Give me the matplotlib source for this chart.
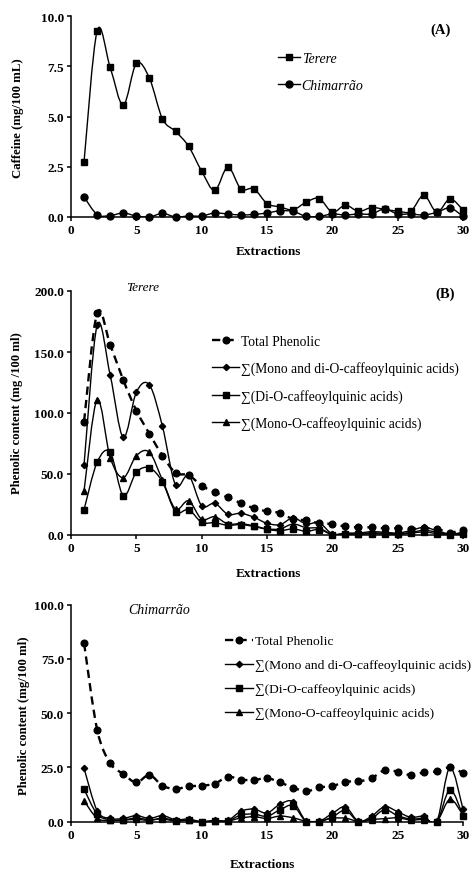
import numpy as np
import matplotlib
matplotlib.use('Agg')
import matplotlib.pyplot as plt
from matplotlib.path import Path
from matplotlib.patches import PathPatch
from matplotlib.lines import Line2D

plt.rcParams['font.family'] = ['Liberation Serif', 'DejaVu Serif']

extractions = list(range(1, 31))

# (A) caffeine, mg/100 mL
caffeine_terere = [2.76, 9.26, 7.44, 5.57, 7.64, 6.91, 4.88, 4.26, 3.52, 2.28,
                   1.32, 2.48, 1.40, 1.40, 0.67, 0.50, 0.36, 0.74, 0.92, 0.24,
                   0.59, 0.28, 0.47, 0.38, 0.29, 0.28, 1.08, 0.24, 0.90, 0.35]
caffeine_chimarrao = [1.00, 0.12, 0.07, 0.20, 0.05, 0.00, 0.18, 0.00, 0.05, 0.05,
                      0.20, 0.15, 0.10, 0.13, 0.20, 0.31, 0.28, 0.03, 0.03, 0.15,
                      0.10, 0.15, 0.15, 0.40, 0.15, 0.15, 0.10, 0.23, 0.45, 0.03]

# (B) terere, phenolic content
ter_total = [93, 182, 156, 127, 102, 83, 65, 51, 49, 40.5,
             35, 31, 26, 22, 19.4, 18, 13, 12, 9.6, 9,
             7, 6.3, 6.3, 5.5, 5.5, 5, 5.5, 5, 2, 4.4]
ter_mono_di = [57.7, 172, 131, 80, 117, 123, 89, 41, 49, 24,
               26, 17, 17.8, 14.5, 9.6, 8.5, 14, 9, 10, 0.8,
               1.6, 1.6, 2.7, 2.2, 1.6, 3.6, 6.3, 3.6, 0.8, 2.2]
ter_di = [20.8, 59.6, 67.8, 32.2, 51.4, 55, 43.5, 19, 20.8, 10.4,
          10, 8, 8.5, 7, 4.6, 3.5, 5, 3, 4.5, 0.3,
          0.5, 0.5, 1, 0.8, 0.5, 1.5, 2.5, 1.2, 0.3, 0.8]
ter_mono = [36.3, 111, 63.5, 47, 65, 67.8, 45, 21.3, 28, 13,
            15, 9, 9.3, 7.5, 5, 5, 9, 6, 5.5, 0.5,
            1.1, 1.1, 1.7, 1.4, 1.1, 2.1, 3.8, 2.4, 0.5, 1.4]

# (C) chimarrao, phenolic content
chi_total = [82.3, 42.4, 27, 22, 18.1, 21.5, 16.6, 15.1, 16.3, 16.6,
             17.5, 20.7, 19.4, 19.2, 20.1, 18.1, 15.7, 14, 15.8, 16.4,
             18.4, 18.6, 20, 23.8, 23, 21.5, 22.7, 23.2, 25, 22.4]
chi_mono_di = [24.6, 5.1, 1.5, 1.5, 2.8, 1.5, 2.8, 0.9, 1.2, 0,
               0.6, 0.6, 4.8, 5.8, 4, 8.1, 9.2, 0.2, 0.2, 3.8,
               6.8, 0.2, 2.5, 6.9, 4.6, 2, 2.5, 0.2, 25, 5.8]
chi_di = [15, 3.5, 0.9, 0.8, 1.7, 0.9, 1.2, 0.3, 0.6, 0,
          0.3, 0.3, 3.1, 3.5, 2.5, 5.5, 7.4, 0, 0, 2.2,
          5.2, 0, 1.5, 5.5, 2.8, 1.2, 1.5, 0, 14.7, 2.8]
chi_mono = [9.6, 1.6, 0.6, 0.7, 1.1, 0.6, 1.6, 0.6, 0.6, 0,
            0.3, 0.3, 1.7, 2.3, 1.5, 2.6, 1.8, 0.2, 0.2, 1.6,
            1.6, 0.2, 1.0, 1.4, 1.8, 0.8, 1.0, 0.2, 10.3, 3.0]

W, H = 474, 870


def fx(px):
    return px / W


def fy(py):
    return 1 - py / H


def smooth_path(x, y):
    """Excel-like smoothed line through the points (Catmull-Rom as Bezier)."""
    pts = np.column_stack([np.asarray(x, float), np.asarray(y, float)])
    ext = np.vstack([pts[0], pts, pts[-1]])
    verts = [pts[0]]
    codes = [Path.MOVETO]
    for i in range(len(pts) - 1):
        p0, p1, p2, p3 = ext[i], ext[i + 1], ext[i + 2], ext[i + 3]
        verts += [p1 + (p2 - p0) / 6.0, p2 - (p3 - p1) / 6.0, p2]
        codes += [Path.CURVE4] * 3
    return Path(verts, codes)


def draw_series(ax, x, y, marker, ms, lw=1.0, ls='-'):
    ax.add_patch(PathPatch(smooth_path(x, y), fill=False, ec='black',
                           lw=lw, ls=ls, capstyle='butt'))
    ax.plot(x, y, ls='none', marker=marker, ms=ms, color='black',
            clip_on=False, zorder=3)


def style_axes(ax, ymax, ystep):
    ax.set_xlim(0, 30)
    ax.set_ylim(0, ymax)
    ax.set_xticks(range(0, 31, 5))
    yt = np.arange(0, ymax + ystep / 2, ystep)
    ax.set_yticks(yt)
    ax.set_yticklabels(['%.1f' % v for v in yt])
    for s in ('top', 'right'):
        ax.spines[s].set_visible(False)
    for s in ('left', 'bottom'):
        ax.spines[s].set_linewidth(1.1)
    ax.tick_params(direction='out', length=3, width=1.1, labelsize=9.5, pad=2)
    for lab in ax.get_xticklabels() + ax.get_yticklabels():
        lab.set_fontweight('bold')


fig = plt.figure(figsize=(W / 100, H / 100), dpi=100)

# ---- (A)
axA = fig.add_axes([fx(71), fy(218), fx(463) - fx(71), fy(17) - fy(218)])
draw_series(axA, extractions, caffeine_terere, 's', 4.5)
draw_series(axA, extractions, caffeine_chimarrao, 'o', 5.0)
style_axes(axA, 10, 2.5)
hA = [Line2D([], [], color='k', lw=1.0, marker='s', ms=4.5),
      Line2D([], [], color='k', lw=1.0, marker='o', ms=5.0)]
axA.legend(hA, ['Terere', 'Chimarrão'], loc='upper left', frameon=False,
           bbox_to_anchor=(fx(278), fy(53)), bbox_transform=fig.transFigure,
           borderpad=0, borderaxespad=0, handlelength=1.6, handletextpad=0.1,
           labelspacing=1.0, prop={'size': 10, 'style': 'italic'})
fig.text(fx(441), fy(30), '(A)', ha='center', va='center', fontsize=10.5,
         fontweight='bold')
fig.text(fx(268), fy(252), 'Extractions', ha='center', va='center',
         fontsize=9.5, fontweight='bold')
fig.text(fx(18), fy(118), 'Caffeine (mg/100 mL)', ha='center', va='center',
         rotation=90, fontsize=9.2, fontweight='bold')

phen_labels = ['Total Phenolic', '∑(Mono and di-O-caffeoylquinic acids)',
               '∑(Di-O-caffeoylquinic acids)', '∑(Mono-O-caffeoylquinic acids)']
dash = (0, (3.5, 2.2))


def phen_handles():
    return [Line2D([], [], color='k', lw=1.7, ls=dash, marker='o', ms=4.8),
            Line2D([], [], color='k', lw=1.0, marker='D', ms=3.2),
            Line2D([], [], color='k', lw=1.0, marker='s', ms=4.0),
            Line2D([], [], color='k', lw=1.0, marker='^', ms=4.4)]


def draw_phen(ax, total, mono_di, di, mono):
    draw_series(ax, extractions, total, 'o', 4.8, lw=1.7, ls=dash)
    draw_series(ax, extractions, mono_di, 'D', 3.2)
    draw_series(ax, extractions, di, 's', 4.0)
    draw_series(ax, extractions, mono, '^', 4.4)


# ---- (B)
axB = fig.add_axes([fx(71), fy(536), fx(463) - fx(71), fy(292) - fy(536)])
draw_phen(axB, ter_total, ter_mono_di, ter_di, ter_mono)
style_axes(axB, 200, 50)
axB.legend(phen_handles(), phen_labels, loc='upper left', frameon=False,
           bbox_to_anchor=(fx(212), fy(336)), bbox_transform=fig.transFigure,
           borderpad=0, borderaxespad=0, handlelength=2.0, handletextpad=0.1,
           labelspacing=0.98, prop={'size': 9.8})
fig.text(fx(445), fy(294), '(B)', ha='center', va='center', fontsize=10.5,
         fontweight='bold')
fig.text(fx(143), fy(288), 'Terere', ha='center', va='center', fontsize=9.5,
         style='italic')
fig.text(fx(268), fy(574), 'Extractions', ha='center', va='center',
         fontsize=9.5, fontweight='bold')
fig.text(fx(17), fy(413), 'Phenolic content (mg /100 ml)', ha='center',
         va='center', rotation=90, fontsize=9.2, fontweight='bold')

# ---- (C)
axC = fig.add_axes([fx(71), fy(822.7), fx(463) - fx(71), fy(605.7) - fy(822.7)])
draw_phen(axC, chi_total, chi_mono_di, chi_di, chi_mono)
style_axes(axC, 100, 25)
axC.legend(phen_handles(), phen_labels, loc='upper left', frameon=False,
           bbox_to_anchor=(fx(225), fy(636)), bbox_transform=fig.transFigure,
           borderpad=0, borderaxespad=0, handlelength=2.1, handletextpad=0.1,
           labelspacing=0.86, prop={'size': 9.7})
fig.text(fx(159), fy(611), 'Chimarrão', ha='center', va='center',
         fontsize=10, style='italic')
fig.text(fx(262), fy(865), 'Extractions', ha='center', va='center',
         fontsize=9.5, fontweight='bold')
fig.text(fx(24), fy(716), 'Phenolic content (mg/100 ml)', ha='center',
         va='center', rotation=90, fontsize=9.2, fontweight='bold')

fig.savefig('out.png', dpi=100)
